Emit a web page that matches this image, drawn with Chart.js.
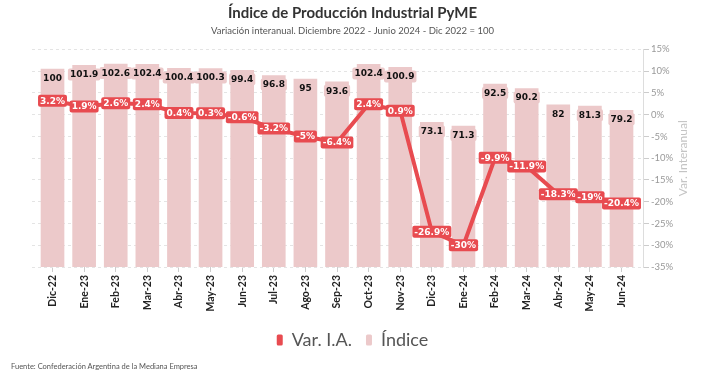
<!DOCTYPE html>
<html>
<head>
<meta charset="utf-8">
<script src="https://cdn.jsdelivr.net/npm/chart.js@4"></script>
<style>
html, body { margin: 0; padding: 0; background: #fff; }
#wrap { position: relative; width: 705px; height: 372px; }
#fuente { position: absolute; left: 11px; top: 363px; font: 7.5px Lato, sans-serif; color: #555; line-height: 1; white-space: nowrap; }
</style>
</head>
<body>
<div id="wrap">
  <canvas id="grafico" width="705" height="372"></canvas>
  <div id="fuente">Fuente: Confederación Argentina de la Mediana Empresa</div>
</div>
<script>
const meses = ["Dic-22","Ene-23","Feb-23","Mar-23","Abr-23","May-23","Jun-23","Jul-23","Ago-23","Sep-23",
  "Oct-23","Nov-23","Dic-23","Ene-24","Feb-24","Mar-24","Abr-24","May-24","Jun-24"];
const indice = [100, 101.9, 102.6, 102.4, 100.4, 100.3, 99.4, 96.8, 95, 93.6,
  102.4, 100.9, 73.1, 71.3, 92.5, 90.2, 82, 81.3, 79.2];
const varIA = [3.2, 1.9, 2.6, 2.4, 0.4, 0.3, -0.6, -3.2, -5, -6.4,
  2.4, 0.9, -26.9, -30, -9.9, -11.9, -18.3, -19, -20.4];

const rojo = "#e84b50";
const rosa = "#ecc9ca";

Chart.defaults.font.family = "Lato";

// etiquetas de valores sobre barras y puntos
const etiquetas = {
  id: "etiquetas",
  afterDatasetsDraw(chart) {
    const ctx = chart.ctx;
    ctx.save();
    ctx.font = 'bold 9px "DejaVu Sans"';
    ctx.textAlign = "center";
    ctx.textBaseline = "middle";

    chart.getDatasetMeta(1).data.forEach((el, i) => {
      const txt = String(indice[i]);
      const w = ctx.measureText(txt).width + 4;
      const y = el.y + 9;
      ctx.fillStyle = rosa;
      ctx.beginPath();
      ctx.roundRect(el.x - w / 2, y - 6, w, 12, 2);
      ctx.fill();
      ctx.fillStyle = "#111";
      ctx.fillText(txt, el.x, y + 0.5);
    });

    chart.getDatasetMeta(0).data.forEach((el, i) => {
      const txt = varIA[i] + "%";
      const w = ctx.measureText(txt).width + 4;
      ctx.fillStyle = rojo;
      ctx.beginPath();
      ctx.roundRect(el.x - w / 2, el.y - 6, w, 12, 2);
      ctx.fill();
      ctx.fillStyle = "#fff";
      ctx.fillText(txt, el.x, el.y + 0.5);
    });
    ctx.restore();
  },
  afterDraw(chart) {
    const ctx = chart.ctx;
    const a = chart.chartArea;
    ctx.save();
    ctx.translate(683, (a.top + a.bottom) / 2);
    ctx.rotate(-Math.PI / 2);
    ctx.font = "12px Lato";
    ctx.fillStyle = "#c4c4c4";
    ctx.textAlign = "center";
    ctx.textBaseline = "middle";
    ctx.fillText("Var. Interanual", 0, 0);
    ctx.restore();
  }
};

new Chart(document.getElementById("grafico"), {
  type: "bar",
  data: {
    datasets: [
      {
        type: "line",
        label: "Var. I.A.",
        data: varIA.map((v, i) => ({ x: i, y: v })),
        yAxisID: "var",
        borderColor: rojo,
        backgroundColor: rojo,
        borderWidth: 4,
        pointRadius: 0,
        tension: 0,
        order: 0
      },
      {
        type: "bar",
        label: "Índice",
        data: indice.map((v, i) => ({ x: i, y: v })),
        yAxisID: "y",
        backgroundColor: rosa,
        barThickness: 23,
        order: 1
      }
    ]
  },
  options: {
    responsive: false,
    animation: false,
    events: [],
    layout: { padding: { left: 0, right: 0, top: 0, bottom: 13 } },
    plugins: {
      title: {
        display: true,
        text: "Índice de Producción Industrial PyME",
        font: { size: 15, weight: "bold" },
        color: "#333",
        padding: { top: 4, bottom: 0 }
      },
      subtitle: {
        display: true,
        text: "Variación interanual. Diciembre 2022 - Junio 2024 - Dic 2022 = 100",
        font: { size: 9.5 },
        color: "#555",
        padding: { top: 3, bottom: 13 }
      },
      legend: {
        position: "bottom",
        labels: {
          font: { size: 18 },
          color: "#555",
          boxWidth: 6,
          boxHeight: 11,
          useBorderRadius: true,
          borderRadius: 1.5,
          padding: 14,
          generateLabels: (chart) =>
            Chart.defaults.plugins.legend.labels.generateLabels(chart).map(l => ({ ...l, lineWidth: 0 }))
        }
      },
      tooltip: { enabled: false }
    },
    scales: {
      x: {
        type: "linear",
        position: "bottom",
        min: -0.649,
        max: 18.68,
        offset: false,
        afterFit: (s) => { s.height = 50; },
        grid: { display: true, drawOnChartArea: false, drawTicks: true, tickLength: 5, color: "#ccc", offset: false },
        border: { display: false },
        ticks: {
          stepSize: 1,
          includeBounds: false,
          autoSkip: false,
          maxTicksLimit: 40,
          minRotation: 90,
          maxRotation: 90,
          padding: 3,
          color: "#222",
          font: { size: 10.5, weight: "bold" },
          callback: (v) => meses[v] ?? ""
        }
      },
      y: {
        position: "left",
        min: 0,
        max: 110,
        afterFit: (s) => { s.width = 32; },
        grid: { display: false },
        border: { display: false },
        ticks: { display: false }
      },
      var: {
        position: "right",
        min: -35,
        max: 15,
        afterFit: (s) => { s.width = 62; },
        grid: { color: "#e4e4e4", tickColor: "#ccc", tickLength: 6, drawOnChartArea: true },
        border: { display: true, color: "#ddd", dash: [3, 3] },
        ticks: {
          stepSize: 5,
          padding: 2,
          color: "#999",
          font: { size: 9.5 },
          callback: (v) => v + "%"
        }
      }
    }
  },
  plugins: [etiquetas]
});
</script>
</body>
</html>
